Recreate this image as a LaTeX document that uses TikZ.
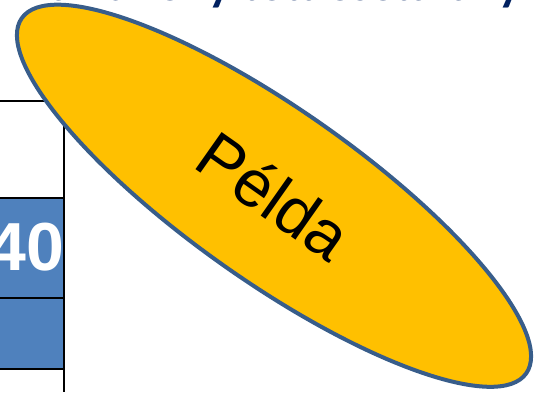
\documentclass[tikz,border=0pt]{standalone}
\usepackage{fontspec}
\setmainfont{Liberation Sans}
\newfontfamily\titlefont{Carlito}
\usetikzlibrary{shapes.geometric}
\definecolor{navytitle}{RGB}{0,32,96}
\definecolor{cellblue}{RGB}{79,129,189}
\definecolor{ovalfill}{RGB}{255,192,0}
\definecolor{ovaledge}{RGB}{56,93,138}
\tikzset{
  gridline/.style={line width=2.5pt,black},
  oval/.style={ellipse,draw=ovaledge,fill=ovalfill,line width=4pt,
    minimum width=617pt,minimum height=172pt,inner sep=0pt},
}
\begin{document}
\begin{tikzpicture}[x=1pt,y=1pt]
\useasboundingbox (0,0) rectangle (538,392);
\clip (0,0) rectangle (538,392);

% title, cut off at the top
\node[anchor=base west,inner sep=0pt,text=navytitle,font=\titlefont\bfseries\fontsize{48}{50}\selectfont]
  (title) at (-29,391.5) {A már bizonyított esetarány};

% table
\fill[cellblue] (0,23) rectangle (64,194);
\coordinate (top) at (0,291);
\coordinate (corner) at (64,291);
\coordinate (foot) at (64,0);
\draw[gridline] (top) -- (corner) -- (foot);
\draw[gridline] (0,194) -- (64,194);
\draw[gridline] (0,94) -- (64,94);
\draw[gridline] (0,23) -- (64,23);
\node[anchor=east,inner sep=0pt,text=white,font=\bfseries\fontsize{68}{70}\selectfont]
  (val) at (64.5,144.5) {40};

% oval
\node[oval,rotate=-35.15,font=\fontsize{66}{68}\selectfont] (pelda) at (274,196.25) {Példa};
\end{tikzpicture}
\end{document}
